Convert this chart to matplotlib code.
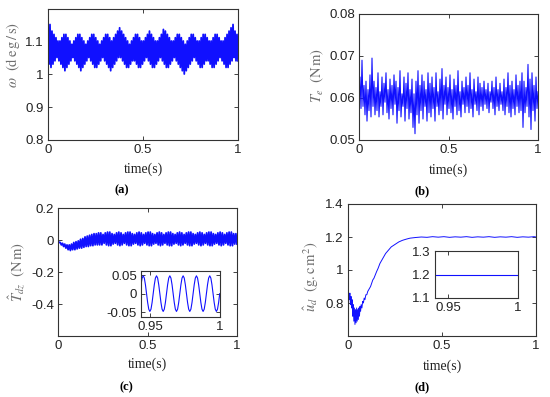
import numpy as np
import matplotlib
matplotlib.use("Agg")
import matplotlib.pyplot as plt
from matplotlib.ticker import FormatStrFormatter

plt.rcParams["font.family"] = ["Liberation Sans", "DejaVu Sans"]
plt.rcParams["mathtext.fontset"] = "stix"

# ---- data ----
# (a) angular speed: successive peaks / troughs of the fast oscillation
omega_hi = [
    1.12, 1.15, 1.13, 1.12, 1.11, 1.10, 1.10, 1.11,
    1.12, 1.12, 1.11, 1.10, 1.09, 1.10, 1.11, 1.12,
    1.12, 1.11, 1.10, 1.09, 1.10, 1.11, 1.12, 1.12,
    1.11, 1.10, 1.09, 1.10, 1.11, 1.12, 1.12, 1.11,
    1.10, 1.11, 1.12, 1.13, 1.14, 1.13, 1.12, 1.11,
    1.10, 1.09, 1.10, 1.11, 1.12, 1.12, 1.11, 1.10,
    1.10, 1.11, 1.12, 1.13, 1.12, 1.11, 1.10, 1.10,
    1.11, 1.12, 1.135, 1.13, 1.12, 1.11, 1.10, 1.10,
    1.11, 1.12, 1.12, 1.11, 1.10, 1.09, 1.10, 1.11,
    1.12, 1.12, 1.11, 1.10, 1.10, 1.11, 1.12, 1.12,
    1.11, 1.10, 1.10, 1.11, 1.12, 1.12, 1.11, 1.10,
    1.10, 1.11, 1.12, 1.13, 1.14, 1.15, 1.13, 1.12,
]
omega_lo = [
    1.03, 1.02, 1.03, 1.04, 1.05, 1.04, 1.03, 1.02,
    1.01, 1.02, 1.03, 1.04, 1.05, 1.04, 1.03, 1.02,
    1.01, 1.02, 1.03, 1.04, 1.05, 1.04, 1.03, 1.02,
    1.02, 1.03, 1.04, 1.05, 1.04, 1.03, 1.02, 1.01,
    1.02, 1.03, 1.04, 1.05, 1.05, 1.04, 1.03, 1.02,
    1.02, 1.03, 1.04, 1.04, 1.03, 1.02, 1.02, 1.03,
    1.04, 1.05, 1.04, 1.03, 1.02, 1.02, 1.03, 1.04,
    1.05, 1.04, 1.03, 1.02, 1.02, 1.03, 1.04, 1.05,
    1.04, 1.03, 1.02, 1.01, 1.00, 1.01, 1.02, 1.03,
    1.04, 1.05, 1.04, 1.03, 1.02, 1.02, 1.03, 1.04,
    1.04, 1.03, 1.02, 1.02, 1.03, 1.04, 1.05, 1.04,
    1.03, 1.02, 1.02, 1.03, 1.04, 1.05, 1.04, 1.04,
]

# (b) electromagnetic torque (Nm)
te_vals = [
    0.0600, 0.0650, 0.0575, 0.0690, 0.0580, 0.0630, 0.0560, 0.0640, 0.0545, 0.0620,
    0.0570, 0.0655, 0.0555, 0.0695, 0.0580, 0.0640, 0.0560, 0.0625, 0.0570, 0.0660,
    0.0555, 0.0615, 0.0580, 0.0650, 0.0560, 0.0635, 0.0590, 0.0660, 0.0565, 0.0620,
    0.0550, 0.0645, 0.0575, 0.0630, 0.0560, 0.0655, 0.0585, 0.0640, 0.0540, 0.0625,
    0.0570, 0.0665, 0.0555, 0.0610, 0.0580, 0.0650, 0.0545, 0.0635, 0.0575, 0.0660,
    0.0550, 0.0620, 0.0565, 0.0645, 0.0530, 0.0610, 0.0515, 0.0640, 0.0560, 0.0665,
    0.0540, 0.0630, 0.0570, 0.0655, 0.0550, 0.0640, 0.0580, 0.0620, 0.0545, 0.0660,
    0.0565, 0.0635, 0.0555, 0.0650, 0.0575, 0.0625, 0.0545, 0.0660, 0.0580, 0.0615,
    0.0560, 0.0645, 0.0570, 0.0670, 0.0550, 0.0630, 0.0585, 0.0650, 0.0560, 0.0625,
    0.0575, 0.0655, 0.0565, 0.0620, 0.0550, 0.0645, 0.0580, 0.0630, 0.0560, 0.0665,
    0.0570, 0.0615, 0.0555, 0.0640, 0.0585, 0.0625, 0.0565, 0.0650, 0.0580, 0.0630,
    0.0565, 0.0660, 0.0575, 0.0620, 0.0555, 0.0645, 0.0585, 0.0615, 0.0570, 0.0650,
    0.0560, 0.0635, 0.0580, 0.0625, 0.0570, 0.0640, 0.0585, 0.0620, 0.0575, 0.0635,
    0.0565, 0.0615, 0.0590, 0.0640, 0.0575, 0.0625, 0.0560, 0.0650, 0.0580, 0.0620,
    0.0570, 0.0635, 0.0585, 0.0615, 0.0570, 0.0645, 0.0560, 0.0625, 0.0580, 0.0660,
    0.0565, 0.0630, 0.0555, 0.0640, 0.0575, 0.0620, 0.0560, 0.0655, 0.0580, 0.0630,
    0.0565, 0.0640, 0.0570, 0.0660, 0.0530, 0.0640, 0.0565, 0.0625, 0.0580, 0.0680,
    0.0555, 0.0645, 0.0525, 0.0660, 0.0570, 0.0630, 0.0545, 0.0650, 0.0575, 0.0615,
]

# (c) estimated disturbance torque: successive peaks / troughs
tdz_hi = [
    -0.005, -0.015, -0.02, -0.025, -0.03, -0.03, -0.025, -0.015, -0.01, -0.005,
    0.005, 0.01, 0.02, 0.025, 0.03, 0.035, 0.04, 0.04, 0.045, 0.045,
    0.035, 0.045, 0.05, 0.05, 0.04, 0.035, 0.045, 0.05, 0.045,
    0.035, 0.045, 0.05, 0.05, 0.04, 0.035, 0.045, 0.05, 0.045,
    0.035, 0.045, 0.05, 0.05, 0.04, 0.035, 0.045, 0.05, 0.045,
    0.035, 0.045, 0.05, 0.05, 0.04, 0.035, 0.045, 0.05, 0.045,
    0.035, 0.045, 0.05, 0.05, 0.04, 0.035, 0.045, 0.05, 0.045,
    0.035, 0.045, 0.05, 0.05, 0.04, 0.035, 0.045, 0.05, 0.045,
    0.035, 0.045, 0.05, 0.05, 0.04, 0.04,
]
tdz_lo = [
    -0.015, -0.03, -0.04, -0.05, -0.06, -0.065, -0.06, -0.06, -0.055, -0.05,
    -0.05, -0.045, -0.04, -0.04, -0.035, -0.035, -0.03, -0.03, -0.03, -0.03,
    -0.02, -0.03, -0.035, -0.035, -0.025, -0.02, -0.03, -0.035, -0.03,
    -0.02, -0.03, -0.035, -0.035, -0.025, -0.02, -0.03, -0.035, -0.03,
    -0.02, -0.03, -0.035, -0.035, -0.025, -0.02, -0.03, -0.035, -0.03,
    -0.02, -0.03, -0.035, -0.035, -0.025, -0.02, -0.03, -0.035, -0.03,
    -0.02, -0.03, -0.035, -0.035, -0.025, -0.02, -0.03, -0.035, -0.03,
    -0.02, -0.03, -0.035, -0.035, -0.025, -0.02, -0.03, -0.035, -0.03,
    -0.02, -0.03, -0.035, -0.035, -0.025, -0.025,
]
# (c) inset, 0.9436 .. 1 s
tdz_zoom = [
    0.024, 0.042, 0.048, 0.042, 0.024, 0.0, -0.024, -0.042, -0.048, -0.042, -0.024, 0.0,
    0.024, 0.042, 0.048, 0.042, 0.024, 0.0, -0.024, -0.042, -0.048, -0.042, -0.024, 0.0,
    0.024, 0.042, 0.048, 0.042, 0.024, 0.0, -0.024, -0.042, -0.048, -0.042, -0.024, 0.0,
    0.024, 0.042, 0.048, 0.042, 0.024, 0.0, -0.024, -0.042, -0.048, -0.042, -0.024, 0.0,
    0.024, 0.042, 0.048, 0.042, 0.024, 0.0, -0.024, -0.042, -0.048, -0.042, -0.024, 0.0,
    0.024, 0.042, 0.048, 0.042, 0.024, 0.0, -0.024, -0.042, -0.048, -0.042, -0.024, 0.0,
]

# (d) estimated inertia
ud_t = [
    0.0, 0.002, 0.004, 0.007, 0.010, 0.013, 0.016, 0.019, 0.022, 0.025,
    0.028, 0.031, 0.034, 0.037, 0.040, 0.043, 0.046, 0.049, 0.052, 0.055,
    0.058, 0.061, 0.064, 0.067, 0.070, 0.074, 0.078, 0.082, 0.086, 0.090,
    0.095, 0.100, 0.105, 0.110, 0.115, 0.120, 0.126, 0.132, 0.138, 0.145,
    0.152, 0.160, 0.170, 0.180, 0.190, 0.200, 0.215, 0.230, 0.250, 0.270,
    0.290, 0.310, 0.330, 0.360, 0.390, 0.420, 0.450, 0.480, 0.510, 0.540,
    0.570, 0.600, 0.630, 0.660, 0.690, 0.720, 0.750, 0.780, 0.810, 0.840,
    0.870, 0.900, 0.930, 0.960, 0.990, 1.0,
]
ud_v = [
    1.03, 0.87, 0.85, 0.82, 0.86, 0.79, 0.84, 0.77, 0.82, 0.72,
    0.79, 0.69, 0.77, 0.67, 0.76, 0.68, 0.77, 0.69, 0.76, 0.70,
    0.77, 0.72, 0.78, 0.75, 0.79, 0.77, 0.81, 0.80, 0.83, 0.82,
    0.85, 0.85, 0.87, 0.88, 0.89, 0.90, 0.92, 0.94, 0.95, 0.97,
    0.99, 1.01, 1.04, 1.06, 1.08, 1.10, 1.12, 1.14, 1.155, 1.17,
    1.18, 1.187, 1.193, 1.197, 1.2, 1.198, 1.202, 1.199, 1.202, 1.198,
    1.201, 1.199, 1.202, 1.198, 1.201, 1.199, 1.202, 1.198, 1.201, 1.199,
    1.202, 1.198, 1.201, 1.199, 1.202, 1.2,
]
ud_zoom_t = [0.94, 1.0]
ud_zoom_v = [1.2, 1.2]

BLUE = "#1010ff"
GRAY = "#6e6e6e"

fig = plt.figure(figsize=(5.5, 3.97), dpi=100)
W, H = 550.0, 397.0


def px_axes(x0, y0, x1, y1):
    return fig.add_axes([x0 / W, 1 - y1 / H, (x1 - x0) / W, (y1 - y0) / H])


def style(ax, fs=9.5):
    ax.tick_params(direction="in", top=True, right=True, length=3, width=0.6,
                   labelsize=fs, pad=3, colors="#222222")
    for s in ax.spines.values():
        s.set_linewidth(0.8)
        s.set_color("#333333")
    ax.yaxis.set_major_formatter(FormatStrFormatter("%g"))
    ax.xaxis.set_major_formatter(FormatStrFormatter("%g"))


def ftext(x, y, s, **kw):
    fig.text(x / W, 1 - y / H, s, ha="center", va="center", **kw)


serif = ["Liberation Serif", "DejaVu Serif"]
YL = 10.5

# (a)
ax = px_axes(48, 9, 238, 140)
omega = np.column_stack([omega_hi, omega_lo]).ravel()
ax.plot(np.linspace(0, 1, len(omega)), omega, color=BLUE, lw=1.3)
ax.set_xlim(0, 1)
ax.set_ylim(0.8, 1.197)
ax.set_xticks([0, 0.5, 1])
ax.set_yticks([0.8, 0.9, 1.0, 1.1])
style(ax)
ftext(13, 55, r"$\omega\ \ (\mathrm{d\,e\,g\,/\,s})$", rotation=90, fontsize=YL, color=GRAY)
ftext(143, 169, "time(s)", fontsize=10, family=serif, color="#222222")
ftext(122, 190, "(a)", fontsize=9, family=serif, weight="bold")

# (b)
ax = px_axes(359, 14, 538, 140)
ax.plot(np.linspace(0, 1, len(te_vals)), te_vals, color=BLUE, lw=0.8)
ax.set_xlim(0, 1)
ax.set_ylim(0.05, 0.08)
ax.set_xticks([0, 0.5, 1])
ax.set_yticks([0.05, 0.06, 0.07, 0.08])
style(ax)
ftext(317, 75, r"$T_e\ \ (\mathrm{N\,m})$", rotation=90, fontsize=YL, color=GRAY)
ftext(448, 170, "time(s)", fontsize=10, family=serif, color="#222222")
ftext(422, 191, "(b)", fontsize=9, family=serif, weight="bold")

# (c)
ax = px_axes(58, 208, 237, 336)
tdz = np.column_stack([tdz_hi, tdz_lo]).ravel()
ax.plot(np.linspace(0, 1, len(tdz)), tdz, color=BLUE, lw=1.3)
ax.set_xlim(0, 1)
ax.set_ylim(-0.598, 0.2)
ax.set_xticks([0, 0.5, 1])
ax.set_yticks([-0.4, -0.2, 0, 0.2])
style(ax)
ftext(17, 272, r"$\hat{T}_{dz}\ \ (\mathrm{N\,m})$", rotation=90, fontsize=YL, color=GRAY)
ftext(147, 364, "time(s)", fontsize=10, family=serif, color="#222222")
ftext(126, 387, "(c)", fontsize=9, family=serif, weight="bold")

ins = px_axes(141, 271, 220, 317)
ins.plot(np.linspace(0.9436, 0.9998, len(tdz_zoom)), tdz_zoom, color=BLUE, lw=0.8)
ins.set_xlim(0.9436, 1.0)
ins.set_ylim(-0.063, 0.061)
ins.set_xticks([0.95, 1])
ins.set_yticks([-0.05, 0, 0.05])
style(ins)

# (d)
ax = px_axes(348, 204, 536, 336)
ax.plot(ud_t, ud_v, color=BLUE, lw=0.7)
ax.set_xlim(0, 1)
ax.set_ylim(0.6, 1.4)
ax.set_xticks([0, 0.5, 1])
ax.set_yticks([0.8, 1.0, 1.2, 1.4])
style(ax)
ftext(311, 277, r"$\hat{u}_d\ \ (\mathrm{g.c\,m}^2)$", rotation=90, fontsize=YL, color=GRAY)
ftext(442, 366, "time(s)", fontsize=10, family=serif, color="#222222")
ftext(422, 387, "(d)", fontsize=9, family=serif, weight="bold")

ins = px_axes(435, 251, 518, 298)
ins.plot(ud_zoom_t, ud_zoom_v, color=BLUE, lw=0.8)
ins.set_xlim(0.9407, 1.0)
ins.set_ylim(1.1, 1.3)
ins.set_xticks([0.95, 1])
ins.set_yticks([1.1, 1.2, 1.3])
style(ins)

fig.savefig("out.png", dpi=100)
